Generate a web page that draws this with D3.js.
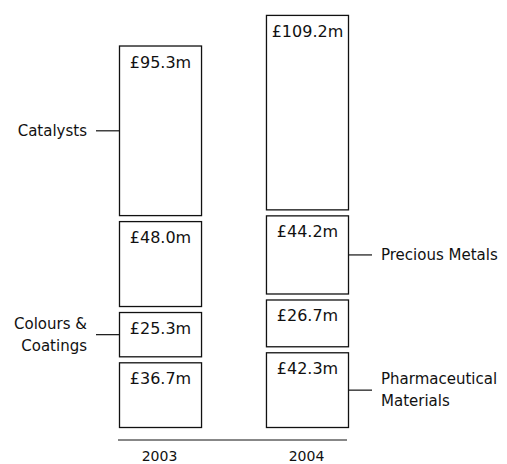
<!DOCTYPE html>
<html><head><meta charset="utf-8">
<script src="https://cdn.jsdelivr.net/npm/d3@7"></script>
<style>body{margin:0;background:#fff}svg{display:block}</style>
</head><body>
<svg id="c" width="507" height="464"></svg>
<script>
const years = ["2003", "2004"];
const segments = ["Pharmaceutical Materials", "Colours & Coatings", "Precious Metals", "Catalysts"];
const pharma = [36.7, 42.3];
const colours = [25.3, 26.7];
const precious = [48.0, 44.2];
const catalysts = [95.3, 109.2];
const valueLabels = [["£36.7m","£42.3m"],["£25.3m","£26.7m"],["£48.0m","£44.2m"],["£95.3m","£109.2m"]];
// callout: which year bar each segment label attaches to, and side
const callouts = [
  {seg: 0, year: "2004", side: "right", lines: ["Pharmaceutical", "Materials"]},
  {seg: 1, year: "2003", side: "left", lines: ["Colours &", "Coatings"]},
  {seg: 2, year: "2004", side: "right", lines: ["Precious Metals"]},
  {seg: 3, year: "2003", side: "left", lines: ["Catalysts"]}
];

const seriesVals = [pharma, colours, precious, catalysts];
const rows = years.map((y, i) => {
  const r = {year: y};
  segments.forEach((s, j) => r[s] = seriesVals[j][i]);
  return r;
});
const stacked = d3.stack().keys(segments)(rows);

const svg = d3.select("#c");
const base = 428, k = 1.79, gap = 5;
const y = d3.scaleLinear().domain([0, 240]).range([base, base - 240 * k]);
const x = d3.scaleBand().domain(years).range([119, 349]).paddingInner(0.435).paddingOuter(0);

const font = "DejaVu Sans, sans-serif";

function segTop(j, d) { return y(d[1]) - j * gap; }
function segBot(j, d) { return y(d[0]) - j * gap; }

stacked.forEach((layer, j) => {
  const g = svg.append("g");
  g.selectAll("rect").data(layer).join("rect")
    .attr("x", d => x(d.data.year) + 0.5)
    .attr("y", d => segTop(j, d) + 0.5)
    .attr("width", x.bandwidth() - 1)
    .attr("height", d => segBot(j, d) - segTop(j, d) - 1)
    .attr("fill", "#fff").attr("stroke", "#111").attr("stroke-width", 1.3);
  g.selectAll("text").data(layer).join("text")
    .attr("x", d => x(d.data.year) + x.bandwidth() / 2)
    .attr("y", d => segTop(j, d) + 22)
    .attr("text-anchor", "middle")
    .attr("font-family", font).attr("font-size", 16).attr("fill", "#111")
    .text((d, i) => valueLabels[j][i]);
});

// axis baseline
const axisY = 440;
svg.append("line").attr("x1", x.range()[0] - 1).attr("x2", x.range()[1] - 2)
  .attr("y1", axisY).attr("y2", axisY).attr("stroke", "#111").attr("stroke-width", 1);
svg.selectAll("text.yr").data(years).join("text").attr("class", "yr")
  .attr("x", d => x(d) + x.bandwidth() / 2 - 1).attr("y", 461)
  .attr("text-anchor", "middle").attr("font-family", font).attr("font-size", 14).attr("fill", "#111")
  .text(d => d);

// callouts
callouts.forEach(c => {
  const yi = years.indexOf(c.year);
  const d = stacked[c.seg][yi];
  const mid = (segTop(c.seg, d) + segBot(c.seg, d)) / 2;
  const bx = c.side === "left" ? x(c.year) : x(c.year) + x.bandwidth();
  const x2 = c.side === "left" ? bx - 23 : bx + 23;
  svg.append("line").attr("x1", bx).attr("x2", x2).attr("y1", mid).attr("y2", mid)
    .attr("stroke", "#111").attr("stroke-width", 1.2);
  const tx = c.side === "left" ? x2 - 9 : x2 + 9;
  const n = c.lines.length;
  c.lines.forEach((ln, i) => {
    svg.append("text").attr("x", tx).attr("y", mid + 5 + (i - (n - 1) / 2) * 22)
      .attr("text-anchor", c.side === "left" ? "end" : "start")
      .attr("font-family", font).attr("font-size", 15).attr("fill", "#111")
      .text(ln);
  });
});
</script>
</body></html>
